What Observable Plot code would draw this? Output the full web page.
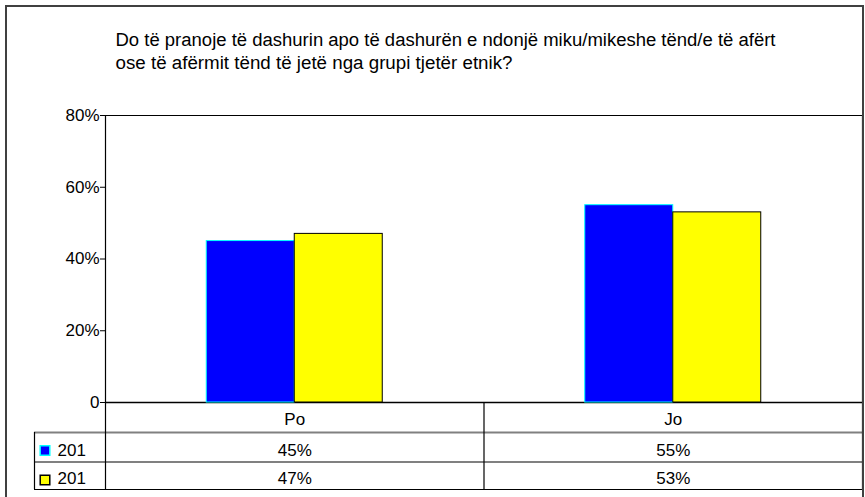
<!DOCTYPE html>
<html>
<head>
<meta charset="utf-8">
<script src="https://cdn.jsdelivr.net/npm/d3@7"></script>
<script src="https://cdn.jsdelivr.net/npm/@observablehq/plot@0.6"></script>
<style>
  html, body { margin: 0; padding: 0; background: #fff; }
  #wrap { position: relative; width: 865px; height: 497px; overflow: hidden; }
  #wrap svg text { font-family: "Liberation Sans", Arial, Helvetica, sans-serif; }
  #border { position: absolute; left: 5px; top: 5px; width: 855px; height: 520px; border: 2px solid #404040; pointer-events: none; }
</style>
</head>
<body>
<div id="wrap"><div id="border"></div></div>
<script>
// ---- data ----
const titleLines = [
  "Do të pranoje të dashurin apo të dashurën e ndonjë miku/mikeshe tënd/e të afërt",
  "ose të afërmit tënd të jetë nga grupi tjetër etnik?"
];
const categories = ["Po", "Jo"];
const seriesLabels = ["201", "201"];
const series1 = [0.45, 0.55];
const series2 = [0.47, 0.53];
const yTicks = [0, 0.2, 0.4, 0.6, 0.8];
const yTickLabels = ["0", "20%", "40%", "60%", "80%"];

// ---- layout ----
const W = 865, H = 497, L = 105, R = 862, T = 115, B = 402;
const band = (R - L) / categories.length;
const X = p => (p - L) / band;             // pixel -> x value
const Y = p => (B - p) / (B - T) * 0.8;    // pixel -> y value
const barW = 88 / band;
const fs = 17;
const titleWidths = [660, 397];

const rows = categories.map((c, i) => ({cat: c, i, a: series1[i], b: series2[i]}));
const pct = d3.format(".0%");

const tableLeft = X(34);
const hLines = [
  {y: Y(432), x1: tableLeft, stroke: "#808080", w: 2},
  {y: Y(461.5), x1: tableLeft, stroke: "#808080", w: 2},
  {y: Y(489), x1: tableLeft, stroke: "#000", w: 1}
];
const vLines = [
  {x: 0, y1: 0.8, y2: Y(489)},
  {x: categories.length, y1: 0.8, y2: Y(489)},
  {x: 1, y1: 0, y2: Y(489)},
  {x: tableLeft, y1: Y(432), y2: Y(489)}
];
const rowMid = [Y(419.5), Y(450.5), Y(478.5)];
const legend = [
  {label: seriesLabels[0], fill: "#0000ff", stroke: "#00ffff", y: rowMid[1], sy: Y(450)},
  {label: seriesLabels[1], fill: "#ffff00", stroke: "#000", y: rowMid[2], sy: Y(479.5)}
];

const plot = Plot.plot({
  width: W, height: H,
  marginLeft: L, marginRight: W - R, marginTop: T, marginBottom: H - B,
  style: {fontSize: fs + "px", background: "transparent", overflow: "visible"},
  x: {type: "linear", domain: [0, categories.length], axis: null},
  y: {domain: [0, 0.8], ticks: yTicks, tickFormat: d => yTickLabels[yTicks.indexOf(d)], tickSize: 5, tickPadding: 1, label: null},
  marks: [
    // plot area borders
    Plot.ruleY([0.8], {x1: 0, x2: categories.length, stroke: "#000", strokeWidth: 1.2}),
    Plot.ruleY([0], {x1: 0, x2: categories.length, stroke: "#000", strokeWidth: 1.6}),
    Plot.ruleY(hLines, {y: "y", x1: "x1", x2: categories.length, stroke: d => d.stroke, strokeWidth: d => d.w}),
    Plot.ruleX(vLines, {x: "x", y1: "y1", y2: "y2", stroke: "#000", strokeWidth: 1.2}),
    // bars
    Plot.rect(rows, {x1: d => d.i + 0.5 - barW, x2: d => d.i + 0.5, y1: 0, y2: "a", fill: "#0000ff", stroke: "#00ffff", strokeWidth: 1}),
    Plot.rect(rows, {x1: d => d.i + 0.5, x2: d => d.i + 0.5 + barW, y1: 0, y2: "b", fill: "#ffff00", stroke: "#000", strokeWidth: 1}),
    // title
    Plot.text(titleLines, {x: X(115), y: (d, i) => Y([40, 63][i]), text: d => d, textAnchor: "start", lineAnchor: "middle", fontSize: 18, fill: "#000"}),
    // data table
    Plot.text(rows, {x: d => d.i + 0.5, y: rowMid[0], text: "cat", lineAnchor: "middle", fill: "#000"}),
    Plot.text(rows, {x: d => d.i + 0.5, y: rowMid[1], text: d => pct(d.a), lineAnchor: "middle", fill: "#000"}),
    Plot.text(rows, {x: d => d.i + 0.5, y: rowMid[2], text: d => pct(d.b), lineAnchor: "middle", fill: "#000"}),
    // legend keys
    Plot.dot(legend, {x: X(44.5), y: "sy", symbol: "square", r: 5.4, fill: d => d.fill, stroke: d => d.stroke, strokeWidth: 1.5}),
    Plot.text(legend, {x: X(57), y: "y", text: "label", textAnchor: "start", lineAnchor: "middle", fill: "#000"})
  ]
});
document.getElementById("wrap").prepend(plot);
// title lines fitted to the reference's measured widths
d3.select(plot).selectAll("text").each(function () {
  const k = titleLines.indexOf(this.textContent);
  if (k >= 0) {
    this.setAttribute("textLength", titleWidths[k]);
    this.setAttribute("lengthAdjust", "spacingAndGlyphs");
  }
});
</script>
</body>
</html>
